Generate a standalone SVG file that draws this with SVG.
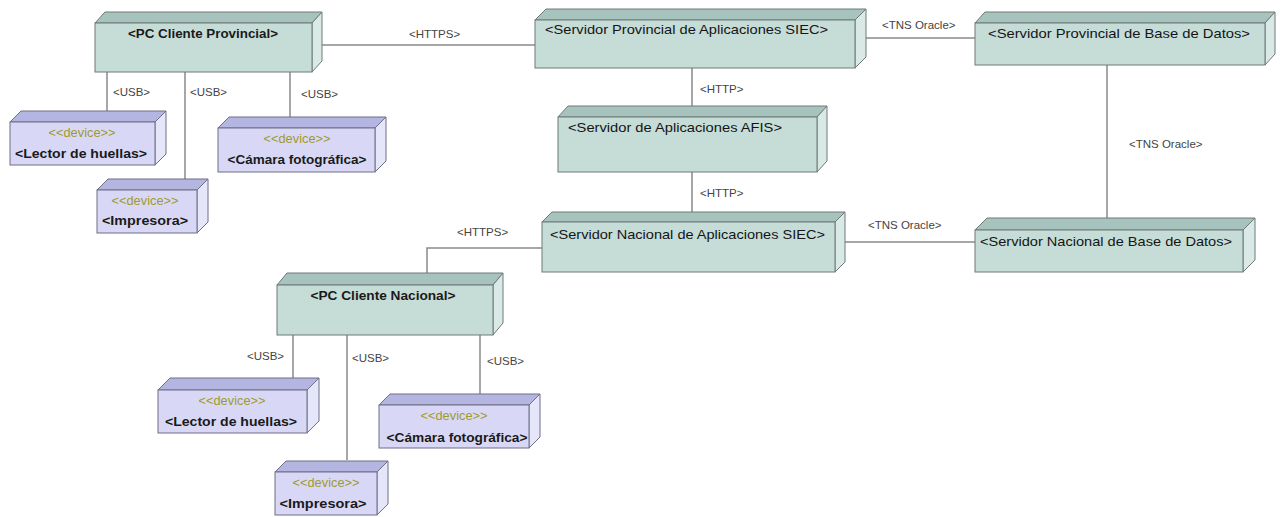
<svg xmlns="http://www.w3.org/2000/svg" width="1281" height="517" viewBox="0 0 1281 517">
<style>
.sf{fill:#c6dcd7;stroke:#6f7a78;stroke-width:1}
.st{fill:#a7c3bd;stroke:#6f7a78;stroke-width:1}
.ss{fill:#d9e9e6;stroke:#6f7a78;stroke-width:1}
.df{fill:#d8d8f6;stroke:#6f6f86;stroke-width:1}
.dt{fill:#b5b5e2;stroke:#6f6f86;stroke-width:1}
.ds{fill:#e6e6fa;stroke:#6f6f86;stroke-width:1}
.title{font-family:"Liberation Sans",Arial,sans-serif;font-size:13px;fill:#151515}
.ptitle{font-family:"Liberation Sans",Arial,sans-serif;font-size:13px;font-weight:bold;fill:#1a1a1a}
.dname{font-family:"Liberation Sans",Arial,sans-serif;font-size:13px;font-weight:bold;fill:#1a1a1a}
.stereo{font-family:"Liberation Sans",Arial,sans-serif;font-size:12.5px;fill:#a09a2a}
.lbl{font-family:"Liberation Sans",Arial,sans-serif;font-size:11.5px;fill:#444}
.ln{stroke:#8a8a8a;stroke-width:1.5;fill:none}
</style>
<g id="connectors">
<line class="ln" x1="107" y1="72" x2="107" y2="111"/>
<text class="lbl" x="113" y="96">&lt;USB&gt;</text>
<line class="ln" x1="185" y1="72" x2="185" y2="179"/>
<text class="lbl" x="190" y="96">&lt;USB&gt;</text>
<line class="ln" x1="290" y1="72" x2="290" y2="117"/>
<text class="lbl" x="301" y="98">&lt;USB&gt;</text>
<line class="ln" x1="322" y1="45" x2="535" y2="45"/>
<text class="lbl" x="409" y="38">&lt;HTTPS&gt;</text>
<line class="ln" x1="865" y1="38" x2="975" y2="38"/>
<text class="lbl" x="882" y="29">&lt;TNS Oracle&gt;</text>
<line class="ln" x1="692" y1="68" x2="692" y2="106"/>
<text class="lbl" x="700" y="93">&lt;HTTP&gt;</text>
<line class="ln" x1="692" y1="172" x2="692" y2="213"/>
<text class="lbl" x="700" y="197">&lt;HTTP&gt;</text>
<line class="ln" x1="1107" y1="65" x2="1107" y2="218"/>
<text class="lbl" x="1129" y="148">&lt;TNS Oracle&gt;</text>
<line class="ln" x1="845" y1="242" x2="975" y2="242"/>
<text class="lbl" x="868" y="229">&lt;TNS Oracle&gt;</text>
<polyline class="ln" points="427,273 427,248 542,248"/>
<text class="lbl" x="457" y="236">&lt;HTTPS&gt;</text>
<line class="ln" x1="293" y1="335" x2="293" y2="378"/>
<text class="lbl" x="247" y="360">&lt;USB&gt;</text>
<line class="ln" x1="347" y1="335" x2="347" y2="460"/>
<text class="lbl" x="352" y="362">&lt;USB&gt;</text>
<line class="ln" x1="480" y1="335" x2="480" y2="394"/>
<text class="lbl" x="487" y="365">&lt;USB&gt;</text>
</g>
<g id="pc-provincial">
<polygon class="st" points="95,23 105,12 322,12 312,23"/>
<polygon class="ss" points="312,23 322,12 322,61 312,72"/>
<rect class="sf" x="95" y="23" width="217" height="49"/>
<text class="ptitle" x="203" y="38" text-anchor="middle" textLength="150" lengthAdjust="spacingAndGlyphs">&lt;PC Cliente  Provincial&gt;</text>
</g>
<g id="srv-prov-siec">
<polygon class="st" points="535,20 546,9 866,9 855,20"/>
<polygon class="ss" points="855,20 866,9 866,57 855,68"/>
<rect class="sf" x="535" y="20" width="320" height="48"/>
<text class="title" x="545" y="34" textLength="283" lengthAdjust="spacingAndGlyphs">&lt;Servidor Provincial de Aplicaciones SIEC&gt;</text>
</g>
<g id="srv-afis">
<polygon class="st" points="558,117 568,106 827,106 817,117"/>
<polygon class="ss" points="817,117 827,106 827,161 817,172"/>
<rect class="sf" x="558" y="117" width="259" height="55"/>
<text class="title" x="568" y="132" textLength="214" lengthAdjust="spacingAndGlyphs">&lt;Servidor de Aplicaciones AFIS&gt;</text>
</g>
<g id="srv-nac-siec">
<polygon class="st" points="542,222 552,212 845,212 835,222"/>
<polygon class="ss" points="835,222 845,212 845,262 835,272"/>
<rect class="sf" x="542" y="222" width="293" height="50"/>
<text class="title" x="550" y="239" textLength="275" lengthAdjust="spacingAndGlyphs">&lt;Servidor Nacional de Aplicaciones SIEC&gt;</text>
</g>
<g id="srv-prov-bd">
<polygon class="st" points="975,23 985,12 1275,12 1265,23"/>
<polygon class="ss" points="1265,23 1275,12 1275,54 1265,65"/>
<rect class="sf" x="975" y="23" width="290" height="42"/>
<text class="title" x="988" y="38" textLength="262" lengthAdjust="spacingAndGlyphs">&lt;Servidor Provincial de Base de Datos&gt;</text>
</g>
<g id="srv-nac-bd">
<polygon class="st" points="975,230 987,218 1255,218 1243,230"/>
<polygon class="ss" points="1243,230 1255,218 1255,260 1243,272"/>
<rect class="sf" x="975" y="230" width="268" height="42"/>
<text class="title" x="980" y="246" textLength="252" lengthAdjust="spacingAndGlyphs">&lt;Servidor Nacional de Base de Datos&gt;</text>
</g>
<g id="pc-nacional">
<polygon class="st" points="277,285 287,273 503,273 493,285"/>
<polygon class="ss" points="493,285 503,273 503,323 493,335"/>
<rect class="sf" x="277" y="285" width="216" height="50"/>
<text class="ptitle" x="383" y="300" text-anchor="middle" textLength="145" lengthAdjust="spacingAndGlyphs">&lt;PC Cliente  Nacional&gt;</text>
</g>
<g id="lector-prov">
<polygon class="dt" points="10,122 21,111 166,111 155,122"/>
<polygon class="ds" points="155,122 166,111 166,154 155,165"/>
<rect class="df" x="10" y="122" width="145" height="43"/>
<text class="stereo" x="82" y="137" text-anchor="middle" textLength="67" lengthAdjust="spacingAndGlyphs">&lt;&lt;device&gt;&gt;</text>
<text class="dname" x="81" y="158" text-anchor="middle" textLength="132" lengthAdjust="spacingAndGlyphs">&lt;Lector de huellas&gt;</text>
</g>
<g id="impresora-prov">
<polygon class="dt" points="97,190 108,179 208,179 197,190"/>
<polygon class="ds" points="197,190 208,179 208,222 197,233"/>
<rect class="df" x="97" y="190" width="100" height="43"/>
<text class="stereo" x="145" y="205" text-anchor="middle" textLength="67" lengthAdjust="spacingAndGlyphs">&lt;&lt;device&gt;&gt;</text>
<text class="dname" x="145" y="225" text-anchor="middle" textLength="86" lengthAdjust="spacingAndGlyphs">&lt;Impresora&gt;</text>
</g>
<g id="camara-prov">
<polygon class="dt" points="218,128 229,117 386,117 375,128"/>
<polygon class="ds" points="375,128 386,117 386,161 375,172"/>
<rect class="df" x="218" y="128" width="157" height="44"/>
<text class="stereo" x="297" y="143" text-anchor="middle" textLength="67" lengthAdjust="spacingAndGlyphs">&lt;&lt;device&gt;&gt;</text>
<text class="dname" x="297" y="164" text-anchor="middle" textLength="139" lengthAdjust="spacingAndGlyphs">&lt;Cámara fotográfica&gt;</text>
</g>
<g id="lector-nac">
<polygon class="dt" points="158,390 170,378 319,378 307,390"/>
<polygon class="ds" points="307,390 319,378 319,421 307,433"/>
<rect class="df" x="158" y="390" width="149" height="43"/>
<text class="stereo" x="232" y="405" text-anchor="middle" textLength="67" lengthAdjust="spacingAndGlyphs">&lt;&lt;device&gt;&gt;</text>
<text class="dname" x="231" y="426" text-anchor="middle" textLength="132" lengthAdjust="spacingAndGlyphs">&lt;Lector de huellas&gt;</text>
</g>
<g id="camara-nac">
<polygon class="dt" points="379,405 390,394 540,394 529,405"/>
<polygon class="ds" points="529,405 540,394 540,437 529,448"/>
<rect class="df" x="379" y="405" width="150" height="43"/>
<text class="stereo" x="454" y="420" text-anchor="middle" textLength="67" lengthAdjust="spacingAndGlyphs">&lt;&lt;device&gt;&gt;</text>
<text class="dname" x="457" y="442" text-anchor="middle" textLength="141" lengthAdjust="spacingAndGlyphs">&lt;Cámara fotográfica&gt;</text>
</g>
<g id="impresora-nac">
<polygon class="dt" points="275,472 286,461 388,461 377,472"/>
<polygon class="ds" points="377,472 388,461 388,504 377,515"/>
<rect class="df" x="275" y="472" width="102" height="43"/>
<text class="stereo" x="326" y="487" text-anchor="middle" textLength="67" lengthAdjust="spacingAndGlyphs">&lt;&lt;device&gt;&gt;</text>
<text class="dname" x="323" y="508" text-anchor="middle" textLength="87" lengthAdjust="spacingAndGlyphs">&lt;Impresora&gt;</text>
</g>
</svg>
